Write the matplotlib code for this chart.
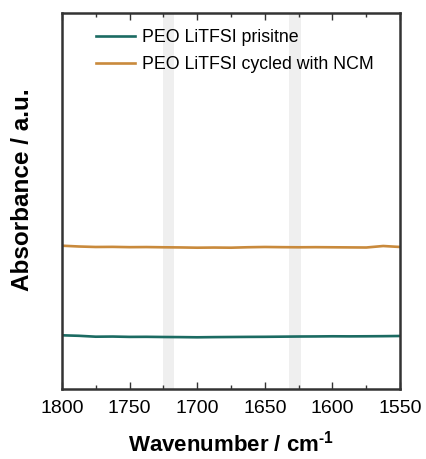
import matplotlib
matplotlib.use("Agg")
import matplotlib.pyplot as plt
from matplotlib.ticker import MultipleLocator

plt.rcParams['font.family'] = ['Liberation Sans', 'DejaVu Sans']
plt.rcParams['mathtext.fontset'] = 'custom'
plt.rcParams['mathtext.rm'] = 'Liberation Sans'
plt.rcParams['mathtext.bf'] = 'Liberation Sans:bold'

# FTIR spectra (baseline-offset, arbitrary units)
wavenumber = [1800, 1787.5, 1775, 1762.5, 1750, 1737.5, 1725, 1712.5, 1700,
              1687.5, 1675, 1662.5, 1650, 1637.5, 1625, 1612.5, 1600,
              1587.5, 1575, 1562.5, 1550]
pristine = [0.1428, 0.1415, 0.1391, 0.1395, 0.1386, 0.1388, 0.1383, 0.1380,
            0.1375, 0.1380, 0.1383, 0.1386, 0.1388, 0.1392, 0.1396, 0.1398,
            0.1402, 0.1400, 0.1402, 0.1405, 0.1410]
cycled = [0.3811, 0.3790, 0.3777, 0.3780, 0.3772, 0.3775, 0.3769, 0.3765,
          0.3758, 0.3762, 0.3758, 0.3770, 0.3777, 0.3772, 0.3769, 0.3772,
          0.3769, 0.3766, 0.3763, 0.3803, 0.3777]
series_labels = ["PEO LiTFSI prisitne", "PEO LiTFSI cycled with NCM"]
series_colors = ["#1b6b62", "#c98a3c"]

# highlighted spectral regions (cm-1)
bands = [(1725, 1717), (1632, 1623)]

fig = plt.figure(figsize=(4.27, 4.59), dpi=100)
ax = fig.add_axes([0.145, 0.1525, 0.792, 0.8192])

for lo, hi in bands:
    ax.axvspan(lo, hi, color="#efefef", lw=0, zorder=0)

ax.plot(wavenumber, pristine, color=series_colors[0], lw=1.9, label=series_labels[0])
ax.plot(wavenumber, cycled, color=series_colors[1], lw=1.9, label=series_labels[1])

ax.set_xlim(1800, 1550)
ax.set_ylim(0, 1)
ax.xaxis.set_major_locator(MultipleLocator(50))
ax.xaxis.set_minor_locator(MultipleLocator(25))
ax.tick_params(axis='x', which='both', direction='in', top=True, bottom=True,
               labelsize=14, pad=8, color="#333333")
ax.tick_params(axis='x', which='major', length=5, width=1.0)
ax.tick_params(axis='x', which='minor', length=3, width=1.0)
ax.set_yticks([])

for sp in ax.spines.values():
    sp.set_linewidth(1.8)
    sp.set_color("#333333")

ax.set_xlabel("Wavenumber / cm$^{\\mathbf{\u20101}}$", fontsize=16, fontweight='bold', labelpad=10)
ax.set_ylabel("Absorbance / a.u.", fontsize=17.5, fontweight='bold')
ax.yaxis.set_label_coords(-0.082, 0.53)

ax.legend(loc='upper left', bbox_to_anchor=(0.07, 0.985), frameon=False,
          fontsize=12.8, handlelength=2.2, handletextpad=0.4, labelspacing=0.55,
          borderaxespad=0.2)

fig.savefig("out.png", dpi=100)
